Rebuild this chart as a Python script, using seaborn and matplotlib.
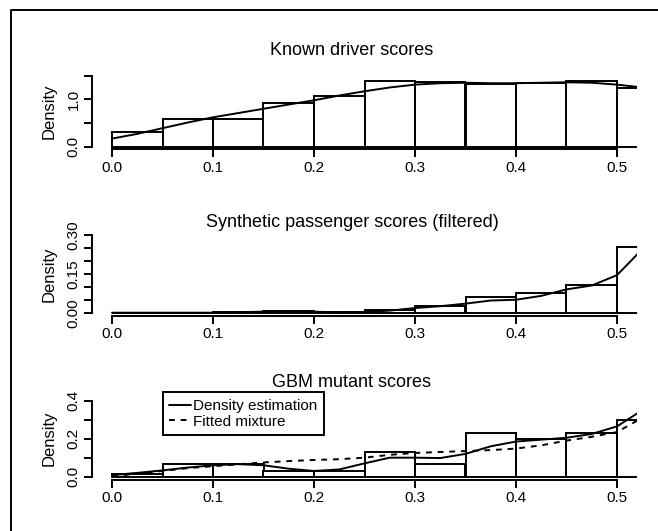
import numpy as np
import pandas as pd
import matplotlib
matplotlib.use("Agg")
import matplotlib.pyplot as plt
import seaborn as sns
from matplotlib.lines import Line2D

# ---------------- data ----------------
bin_edges = [0.00, 0.05, 0.10, 0.15, 0.20, 0.25, 0.30, 0.35, 0.40, 0.45, 0.50, 0.55]
driver_hist = [0.30, 0.58, 0.59, 0.93, 1.07, 1.39, 1.36, 1.32, 1.35, 1.39, 1.23]
passenger_hist = [0.0, 0.0, 0.002, 0.006, 0.002, 0.010, 0.027, 0.062, 0.077, 0.107, 0.255]
gbm_hist = [0.012, 0.065, 0.065, 0.030, 0.030, 0.132, 0.065, 0.232, 0.197, 0.232, 0.298]

curve_x = [0.000, 0.025, 0.050, 0.075, 0.100, 0.125, 0.150, 0.175, 0.200, 0.225, 0.250,
           0.275, 0.300, 0.325, 0.350, 0.375, 0.400, 0.425, 0.450, 0.475, 0.500, 0.525]
driver_density = [0.17, 0.27, 0.39, 0.51, 0.62, 0.71, 0.80, 0.89, 0.98, 1.08, 1.17,
                  1.25, 1.31, 1.34, 1.35, 1.34, 1.34, 1.35, 1.36, 1.35, 1.31, 1.25]
passenger_density = [0.0, 0.0, 0.0, 0.0, 0.0, 0.002, 0.004, 0.005, 0.004, 0.001, 0.003,
                     0.008, 0.018, 0.025, 0.035, 0.047, 0.050, 0.065, 0.090, 0.105, 0.145, 0.245]
gbm_density = [0.008, 0.020, 0.033, 0.048, 0.060, 0.066, 0.060, 0.042, 0.030, 0.038, 0.070,
               0.100, 0.100, 0.098, 0.120, 0.160, 0.185, 0.195, 0.205, 0.225, 0.265, 0.350]
gbm_mixture = [0.003, 0.015, 0.030, 0.045, 0.055, 0.065, 0.075, 0.082, 0.088, 0.092, 0.100,
               0.115, 0.125, 0.130, 0.135, 0.140, 0.148, 0.165, 0.190, 0.210, 0.235, 0.310]

titles = ["Known driver scores", "Synthetic passenger scores (filtered)", "GBM mutant scores"]
x_ticks = [0.0, 0.1, 0.2, 0.3, 0.4, 0.5]
x_tick_labels = ["0.0", "0.1", "0.2", "0.3", "0.4", "0.5"]
y_ticks = [[0.0, 0.5, 1.0, 1.5],
           [0.00, 0.05, 0.10, 0.15, 0.20, 0.25, 0.30],
           [0.0, 0.1, 0.2, 0.3, 0.4]]
y_tick_labels = [["0.0", "", "1.0", ""],
                 ["0.00", "", "", "0.15", "", "", "0.30"],
                 ["0.0", "", "0.2", "", "0.4"]]
y_label = "Density"
legend_labels = ["Density estimation", "Fitted mixture"]

# ---------------- style ----------------
sns.set_theme(style="ticks")
plt.rcParams["font.family"] = ["Liberation Sans", "DejaVu Sans"]
for k in ["text.color", "axes.labelcolor", "xtick.color", "ytick.color", "axes.edgecolor"]:
    plt.rcParams[k] = "black"

W, H = 658, 531
LW = 1.4
FS = 11
fig = plt.figure(figsize=(W / 100, H / 100), dpi=100)

# panel pixel boxes: (top, bottom) in pixels
left_px, right_px = 91.8, 637.2
boxes = [(72.8, 149.5), (231.9, 315.8), (397.7, 479.7)]
ylims = [(-0.06, 1.56), (-0.012, 0.312), (-0.016, 0.416)]
title_baselines = [55, 227, 387]

hists = [driver_hist, passenger_hist, gbm_hist]
dens = [driver_density, passenger_density, gbm_density]
centers = [(a + b) / 2 for a, b in zip(bin_edges[:-1], bin_edges[1:])]

for i in range(3):
    top, bot = boxes[i]
    ax = fig.add_axes([left_px / W, 1 - bot / H, (right_px - left_px) / W, (bot - top) / H])
    df = pd.DataFrame({"score": centers, "density": hists[i]})
    sns.histplot(data=df, x="score", weights="density", bins=bin_edges, stat="count",
                 color="white", edgecolor="black", linewidth=LW, alpha=1, ax=ax)
    dfc = pd.DataFrame({"x": curve_x, "y": dens[i]})
    sns.lineplot(data=dfc, x="x", y="y", color="black", linewidth=LW, ax=ax)
    if i == 2:
        dfm = pd.DataFrame({"x": curve_x, "y": gbm_mixture})
        sns.lineplot(data=dfm, x="x", y="y", color="black", linewidth=LW,
                     linestyle=(0, (3, 3)), ax=ax)
        handles = [Line2D([], [], color="black", lw=LW),
                   Line2D([], [], color="black", lw=LW, linestyle=(0, (3, 3)))]
        leg = ax.legend(handles, legend_labels, loc="upper left",
                        bbox_to_anchor=(0.05, 0.445), bbox_transform=ax.transData,
                        frameon=True, fancybox=False, framealpha=1, edgecolor="black",
                        borderaxespad=0, handlelength=1.4, handletextpad=0.15,
                        borderpad=0.45, labelspacing=0.1, fontsize=FS)
        leg.get_frame().set_linewidth(LW)

    ax.set_xlim(-0.02, 0.52)
    ax.set_ylim(*ylims[i])
    ax.set_xticks(x_ticks)
    ax.set_xticklabels(x_tick_labels)
    ax.set_yticks(y_ticks[i])
    ax.set_yticklabels(y_tick_labels[i], rotation=90, va="center")
    ax.set_xlabel("")
    ax.set_ylabel("")
    for s in ["top", "right"]:
        ax.spines[s].set_visible(False)
    ax.spines["left"].set_linewidth(LW)
    ax.spines["bottom"].set_linewidth(LW)
    ax.spines["left"].set_bounds(y_ticks[i][0], y_ticks[i][-1])
    ax.spines["bottom"].set_bounds(x_ticks[0], x_ticks[-1])
    ax.tick_params(direction="out", length=5.5, width=LW, labelsize=FS, pad=2.5)
    ax.set_facecolor("none")

    fig.text(352 / W, 1 - title_baselines[i] / H, titles[i], ha="center", va="baseline",
             fontsize=13)
    fig.text(53.5 / W, 1 - ((top + bot) / 2) / H, y_label, rotation=90,
             rotation_mode="anchor", ha="center", va="baseline", fontsize=12)

# outer frame (partially visible)
fig.add_artist(Line2D([11 / W, 11 / W, 1.0], [0.0, 1 - 10 / H, 1 - 10 / H],
                      transform=fig.transFigure, color="black", lw=LW))

fig.savefig("out.png", dpi=100, facecolor="white")
